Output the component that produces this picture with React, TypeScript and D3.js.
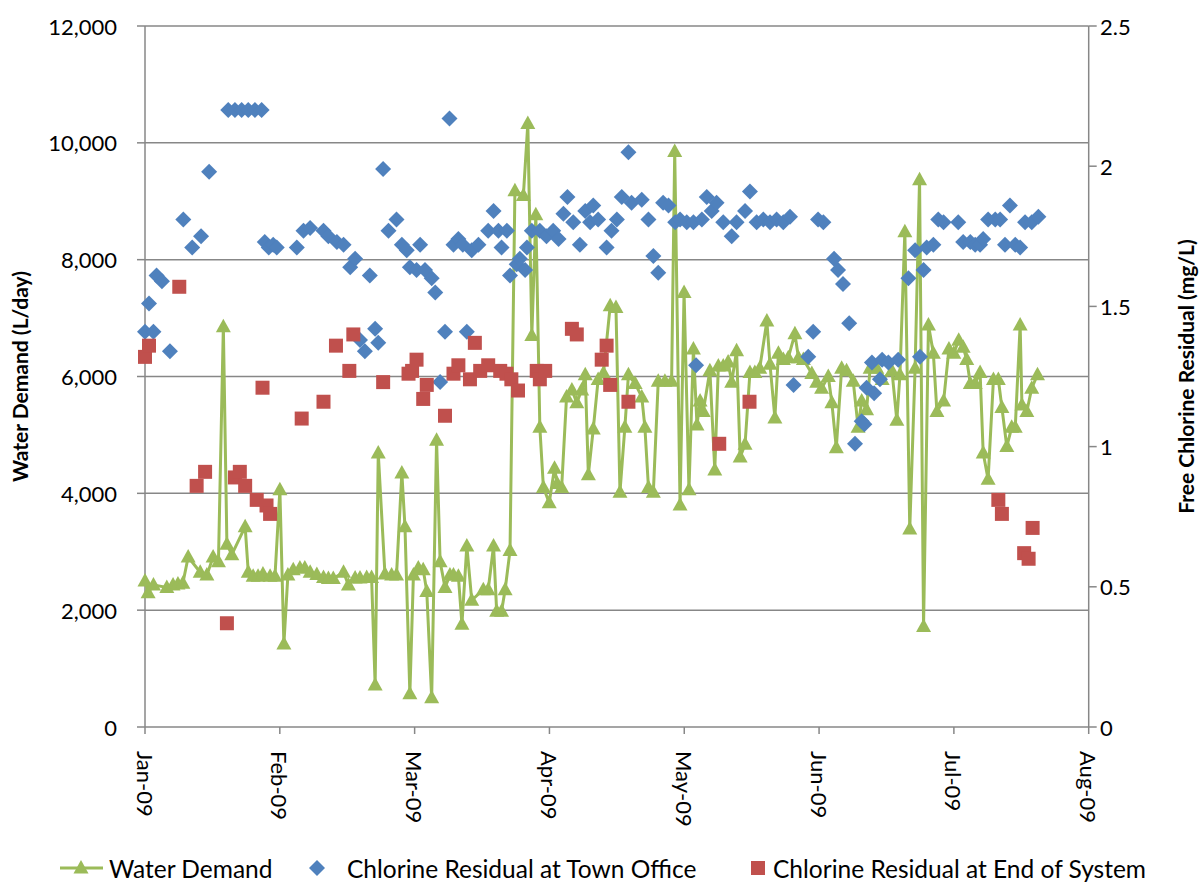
import React from "react";
import * as d3 from "d3";

// ---- Data (day offset from 1 Jan 2009, value) ----
const monthLabels = ["Jan-09", "Feb-09", "Mar-09", "Apr-09", "May-09", "Jun-09", "Jul-09", "Aug-09"];
const leftTicks = [0, 2000, 4000, 6000, 8000, 10000, 12000];
const rightTicks = [0, 0.5, 1, 1.5, 2, 2.5];

const waterDemand: [number, number][] = [
  [0, 2500], [0.7, 2300], [1.9, 2430], [4.9, 2390], [6.3, 2430], [7.4, 2450], [8.5, 2460], [9.7, 2910],
  [12.4, 2650], [13.9, 2600], [15.3, 2910], [16.5, 2830], [17.6, 6850], [18.4, 3130], [19.5, 2950],
  [22.5, 3430], [23.2, 2650], [24.3, 2580], [25.4, 2580], [26.5, 2620], [28.1, 2580], [29.2, 2580],
  [30.3, 4060], [31.2, 1420], [32.1, 2600], [33.3, 2690], [34.8, 2720], [35.9, 2720], [37.1, 2650],
  [38.6, 2610], [40.1, 2560], [41.2, 2540], [42.3, 2540], [44.6, 2650], [45.7, 2430], [47.2, 2550],
  [48.3, 2550], [49.8, 2560], [50.9, 2560], [51.7, 720], [52.4, 4690], [53.9, 2620], [55.4, 2600],
  [56.5, 2600], [57.7, 4350], [58.4, 3430], [59.5, 570], [60.3, 2600], [61.4, 2720], [62.5, 2690],
  [63.3, 2320], [64.4, 500], [65.5, 4910], [66.3, 2830], [67.4, 2390], [68.5, 2600], [69.3, 2600],
  [70.4, 2580], [71.2, 1760], [72.3, 3100], [73.4, 2170], [76, 2350], [77.1, 2350], [78.3, 3100],
  [79, 1980], [80.1, 1980], [80.9, 2350], [82, 3020], [83.1, 9180], [85, 9100], [86, 10330],
  [86.9, 6700], [87.8, 8770], [88.7, 5130], [89.5, 4100], [90.8, 3840], [92, 4430], [92.6, 4170],
  [93.6, 4100], [94.7, 5650], [95.9, 5770], [97, 5550], [98.1, 5770], [98.9, 6030], [99.6, 4320],
  [100.7, 5100], [101.8, 5950], [103, 6060], [104.5, 7210], [105.8, 7180], [106.7, 4020], [107.8, 5130],
  [108.6, 6030], [110.1, 5880], [111.6, 5650], [112.3, 5130], [113.1, 4100], [114.2, 4020], [115.3, 5920],
  [116.8, 5920], [118.3, 5920], [119, 9850], [120.2, 3800], [121.1, 7440], [122.2, 4060], [123.2, 6470],
  [124, 5170], [124.7, 5580], [125.4, 5400], [126.9, 6100], [128, 4400], [128.8, 6180], [129.9, 6180],
  [131, 6250], [131.8, 5900], [132.9, 6440], [133.7, 4620], [134.8, 4840], [135.9, 6070], [137, 6070],
  [138.1, 6140], [139.7, 6950], [140.4, 6210], [141.5, 5290], [142.3, 6400], [143.4, 6290], [144.5, 6320],
  [146, 6730], [146.8, 6320], [147.9, 6290], [149.8, 6050], [150.9, 5900], [152, 5800], [153.5, 6000],
  [154.3, 5550], [155.3, 4780], [156.5, 6140], [157.6, 6100], [159.1, 5920], [160.2, 5130], [161, 5580],
  [162.1, 5430], [162.9, 6140], [164.4, 6140], [165.6, 5950], [167.8, 6100], [168.9, 5250], [169.6, 6030],
  [170.7, 8480], [171.8, 3390], [173, 6140], [174, 9370], [174.9, 1720], [176, 6880], [177.1, 6400],
  [177.9, 5400], [179.4, 5580], [180.6, 6470], [181.7, 6400], [182.8, 6620], [183.8, 6500], [184.6, 6290],
  [185.4, 5880], [186.5, 5880], [187.6, 6070], [188.3, 4690], [189.4, 4240], [190.6, 5950], [191.7, 5950],
  [192.5, 5470], [193.6, 4800], [194.7, 5130], [195.5, 5130], [196.6, 6880], [197, 5510], [198.1, 5400],
  [199.2, 5800], [200.5, 6030],
];

const townOffice: [number, number][] = [
  [0, 1.41], [0.9, 1.51], [1.9, 1.41], [2.6, 1.61], [3.8, 1.59], [5.6, 1.34], [8.6, 1.81], [10.6, 1.71],
  [12.6, 1.75], [14.4, 1.98], [18.7, 2.2], [20.2, 2.2], [21.7, 2.2], [23.2, 2.2], [24.7, 2.2], [26.2, 2.2],
  [26.9, 1.73], [27.8, 1.71], [28.8, 1.72], [29.6, 1.71], [34.1, 1.71], [35.6, 1.77], [37.1, 1.78],
  [40.1, 1.77], [41.2, 1.75], [43.1, 1.73], [44.6, 1.72], [46.1, 1.64], [47.2, 1.67], [48.3, 1.38],
  [49.4, 1.34], [50.5, 1.61], [51.7, 1.42], [52.4, 1.37], [53.5, 1.99], [54.7, 1.77], [56.5, 1.81],
  [57.7, 1.72], [58.8, 1.7], [59.5, 1.64], [61, 1.63], [61.8, 1.72], [62.9, 1.63], [64.4, 1.6],
  [65.2, 1.55], [66.3, 1.23], [67.4, 1.41], [68.4, 2.17], [69.3, 1.72], [70.4, 1.74], [71.4, 1.72],
  [72.3, 1.41], [73.4, 1.7], [74.9, 1.72], [77.1, 1.77], [78.3, 1.84], [79.4, 1.77], [80.1, 1.71],
  [81.3, 1.77], [82, 1.61], [83.5, 1.65], [84.2, 1.67], [85.4, 1.63], [85.8, 1.71], [86.9, 1.77],
  [88.7, 1.77], [90.2, 1.75], [91.7, 1.77], [92.9, 1.74], [94, 1.83], [94.9, 1.89], [96.2, 1.8],
  [97.7, 1.72], [98.9, 1.84], [100, 1.8], [100.7, 1.86], [101.8, 1.81], [103.7, 1.71], [104.8, 1.77],
  [106, 1.81], [107.1, 1.89], [108.6, 2.05], [109.3, 1.87], [111.6, 1.88], [113.1, 1.81], [114.2, 1.68],
  [115.3, 1.62], [116.4, 1.87], [117.6, 1.86], [119.1, 1.8], [120.2, 1.81], [121.7, 1.8], [123.2, 1.8],
  [123.8, 1.29], [125.1, 1.81], [126.2, 1.89], [127.3, 1.84], [128.4, 1.87], [129.9, 1.8], [131.8, 1.75],
  [132.9, 1.8], [134.8, 1.84], [135.9, 1.91], [137.4, 1.8], [138.9, 1.81], [140.4, 1.8], [141.9, 1.81],
  [143.4, 1.8], [144.9, 1.82], [145.7, 1.22], [149, 1.32], [150.1, 1.41], [151.2, 1.81], [152.4, 1.8],
  [154.8, 1.67], [155.7, 1.63], [156.8, 1.58], [158.2, 1.44], [159.5, 1.01], [161, 1.09], [161.6, 1.08],
  [162.1, 1.21], [163.3, 1.3], [163.8, 1.19], [165.1, 1.24], [165.6, 1.31], [167, 1.3], [169.2, 1.31],
  [171.5, 1.6], [173, 1.7], [174.1, 1.32], [174.9, 1.63], [175.6, 1.71], [177.1, 1.72], [178.2, 1.81],
  [179.4, 1.8], [182.7, 1.8], [183.8, 1.73], [185.4, 1.73], [186.5, 1.72], [187.6, 1.72], [188.3, 1.74],
  [189.4, 1.81], [191, 1.81], [192.1, 1.81], [193.2, 1.72], [194.3, 1.86], [195.5, 1.72], [196.6, 1.71],
  [197.7, 1.8], [199.2, 1.8], [200.7, 1.82],
];

const endOfSystem: [number, number][] = [
  [0, 1.32], [0.9, 1.36], [7.7, 1.57], [11.6, 0.86], [13.5, 0.91], [18.4, 0.37], [20.2, 0.89], [21.3, 0.91],
  [22.5, 0.86], [25.1, 0.81], [26.4, 1.21], [27.3, 0.79], [28.1, 0.76], [35.2, 1.1], [40.1, 1.16],
  [42.9, 1.36], [45.9, 1.27], [46.8, 1.4], [53.5, 1.23], [59.2, 1.26], [60, 1.27], [61, 1.31], [62.5, 1.17],
  [63.3, 1.22], [67.4, 1.11], [69.3, 1.26], [70.4, 1.29], [73, 1.24], [74.1, 1.37], [75.3, 1.27],
  [77.1, 1.29], [79.8, 1.27], [81.2, 1.26], [82.3, 1.24], [83.8, 1.2], [88, 1.27], [88.7, 1.24],
  [89.9, 1.27], [95.9, 1.42], [97, 1.4], [102.6, 1.31], [103.7, 1.36], [104.5, 1.22], [108.6, 1.16],
  [129, 1.01], [135.8, 1.16], [191.7, 0.81], [192.5, 0.76], [197.5, 0.62], [198.5, 0.6], [199.4, 0.71],
];

const legendItems = ["Water Demand", "Chlorine Residual at Town Office", "Chlorine Residual at End of System"];

const GREEN = "#9BBB59";
const BLUE = "#4F81BD";
const RED = "#C0504D";
const GRID = "#878787";
const FONT = "Lato, 'Open Sans', sans-serif";

const W = 1199;
const H = 882;
const left = 145;
const right = 1088.7;
const top = 26;
const bottom = 727;
const totalDays = 212;

const tri = "M0,-8L7.5,5.5L-7.5,5.5Z";
const diamond = "M0,-8L8,0L0,8L-8,0Z";
const square = "M-7,-7H7V7H-7Z";

export default function App() {
  const x = d3.scaleLinear().domain([0, totalDays]).range([left, right]);
  const yL = d3.scaleLinear().domain([0, 12000]).range([bottom, top]);
  const yR = d3.scaleLinear().domain([0, 2.5]).range([bottom, top]);
  const monthTick = (i: number) => (i * totalDays) / (monthLabels.length - 1);
  const fmt = d3.format(",");
  const line = d3
    .line<[number, number]>()
    .x((d) => x(d[0]))
    .y((d) => yL(d[1]));

  return (
    <svg width={W} height={H} style={{ position: "absolute", left: 0, top: 0, background: "#fff" }} fontFamily={FONT}>
      {/* gridlines */}
      {leftTicks.slice(1).map((t) => (
        <line key={"g" + t} x1={left} x2={right} y1={yL(t)} y2={yL(t)} stroke={GRID} strokeWidth={1.5} />
      ))}
      {/* axes */}
      <line x1={left} x2={left} y1={top} y2={bottom} stroke={GRID} strokeWidth={1.5} />
      <line x1={right} x2={right} y1={top} y2={bottom} stroke={GRID} strokeWidth={1.5} />
      <line x1={left} x2={right} y1={bottom} y2={bottom} stroke={GRID} strokeWidth={1.5} />
      {leftTicks.map((t) => (
        <g key={"l" + t}>
          <line x1={left - 8} x2={left} y1={yL(t)} y2={yL(t)} stroke={GRID} strokeWidth={1.5} />
          <text x={117} y={yL(t)} textAnchor="end" dominantBaseline="central" fontSize={22} fill="#000">
            {fmt(t)}
          </text>
        </g>
      ))}
      {rightTicks.map((t) => (
        <g key={"r" + t}>
          <line x1={right} x2={right + 8} y1={yR(t)} y2={yR(t)} stroke={GRID} strokeWidth={1.5} />
          <text x={1100} y={yR(t)} textAnchor="start" dominantBaseline="central" fontSize={22} fill="#000">
            {String(t)}
          </text>
        </g>
      ))}
      {monthLabels.map((m, i) => {
        const px = x(monthTick(i));
        return (
          <g key={m}>
            <line x1={px} x2={px} y1={bottom} y2={bottom + 7} stroke={GRID} strokeWidth={1.5} />
            <text
              transform={`translate(${px},${751}) rotate(90)`}
              textAnchor="start"
              dominantBaseline="central"
              fontSize={22}
              fill="#000"
            >
              {m}
            </text>
          </g>
        );
      })}
      {/* axis titles */}
      <text
        transform={`translate(19,${(top + bottom) / 2}) rotate(-90)`}
        textAnchor="middle"
        dominantBaseline="central"
        fontSize={21}
        fontWeight="bold"
        fill="#000"
      >
        Water Demand (L/day)
      </text>
      <text
        transform={`translate(1185,${(top + bottom) / 2}) rotate(-90)`}
        textAnchor="middle"
        dominantBaseline="central"
        fontSize={21}
        fontWeight="bold"
        fill="#000"
      >
        Free Chlorine Residual (mg/L)
      </text>

      {/* water demand */}
      <path d={line(waterDemand) || ""} fill="none" stroke={GREEN} strokeWidth={3} strokeLinejoin="round" />
      {waterDemand.map((d, i) => (
        <path key={"w" + i} d={tri} transform={`translate(${x(d[0])},${yL(d[1])})`} fill={GREEN} />
      ))}
      {townOffice.map((d, i) => (
        <path key={"b" + i} d={diamond} transform={`translate(${x(d[0])},${yR(d[1])})`} fill={BLUE} />
      ))}
      {endOfSystem.map((d, i) => (
        <path key={"r" + i} d={square} transform={`translate(${x(d[0])},${yR(d[1])})`} fill={RED} />
      ))}

      {/* legend */}
      <g fontSize={24.5} fill="#000">
        <line x1={60} x2={103} y1={868} y2={868} stroke={GREEN} strokeWidth={3} />
        <path d={tri} transform="translate(81,868)" fill={GREEN} />
        <text x={109} y={868} dominantBaseline="central">{legendItems[0]}</text>
        <path d={diamond} transform="translate(317,868)" fill={BLUE} />
        <text x={347} y={868} dominantBaseline="central">{legendItems[1]}</text>
        <path d={square} transform="translate(758,868)" fill={RED} />
        <text x={773} y={868} dominantBaseline="central">{legendItems[2]}</text>
      </g>
    </svg>
  );
}
